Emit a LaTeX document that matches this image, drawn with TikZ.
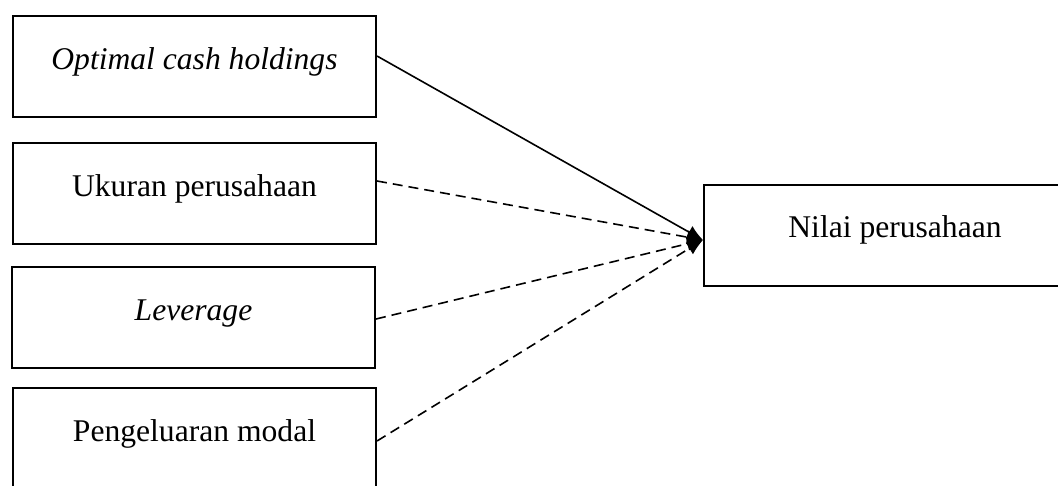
\documentclass[tikz,border=0pt]{standalone}
\usepackage{fontspec}
\setmainfont{Liberation Serif}
\usetikzlibrary{arrows.meta}
\begin{document}
\begin{tikzpicture}[x=1pt,y=-1pt,
  box/.style={draw=black,line width=2pt,fill=white,inner sep=0pt,
    minimum width=363pt,text height=53pt,text depth=48pt,
    font=\fontsize{31.6}{38}\selectfont},
  conn/.style={line width=1.6pt,-{Latex[length=16pt,width=14pt]}},
  dconn/.style={conn,dash pattern=on 10pt off 6pt}]
\useasboundingbox (0,0) rectangle (1058,485);
\fill[white] (0,0) rectangle (1058,485);
\node[box] (b1) at (194.5,66.5) {\itshape Optimal cash holdings};
\node[box] (b2) at (194.5,193.5) {Ukuran perusahaan};
\node[box] (b3) at (193.5,317.5) {\itshape Leverage};
\node[box] (b4) at (194.5,438.5) {Pengeluaran modal};
\node[box,minimum width=382pt] (n) at (895,235) {Nilai perusahaan};
\coordinate (tip) at ([yshift=-5pt]n.west);
\draw[conn] ([yshift=-41pt]b1.north east) -- (tip);
\draw[dconn] ([yshift=-39pt]b2.north east) -- (tip);
\draw[dconn] ([yshift=-53pt]b3.north east) -- (tip);
\draw[dconn] ([yshift=-54pt]b4.north east) -- (tip);
\end{tikzpicture}
\end{document}
